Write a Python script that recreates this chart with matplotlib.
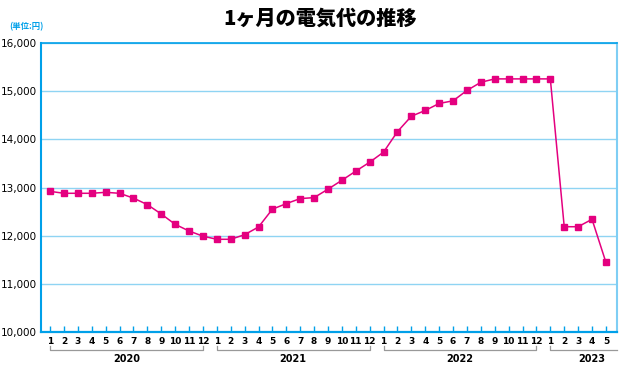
import matplotlib.pyplot as plt
import matplotlib.transforms as mtransforms

# monthly electricity bill (yen), Jan 2020 - May 2023
years = ['2020', '2021', '2022', '2023']
months_per_year = [12, 12, 12, 5]
bill = [
    12920, 12880, 12880, 12880, 12900, 12880, 12780, 12645, 12450, 12236, 12097, 11990,
    11925, 11925, 12020, 12180, 12550, 12665, 12770, 12790, 12965, 13150, 13340, 13525,
    13735, 14160, 14480, 14600, 14745, 14800, 15015, 15185, 15255, 15255, 15255, 15255,
    15255, 12186, 12186, 12340, 11447,
]
yticks = [10000, 11000, 12000, 13000, 14000, 15000, 16000]

CYAN = '#00a0e9'
LIGHT = '#8fd4f3'
PINK = '#e4007f'
NARROW = ['Liberation Sans Narrow', 'DejaVu Sans']

plt.rcParams['font.family'] = ['Noto Sans CJK JP', 'DejaVu Sans']

fig = plt.figure(figsize=(6.35, 3.78), dpi=100)
ax = fig.add_axes([0.0646, 0.1217, 0.9071, 0.7645])

month_labels = []
for n in months_per_year:
    month_labels += [str(m) for m in range(1, n + 1)]
x = list(range(len(bill)))

ax.plot(x, bill, color=PINK, lw=1.1, marker='s', markersize=4.8,
        markerfacecolor=PINK, markeredgecolor=PINK, zorder=3)

ax.set_xlim(-0.65, 40.8)
ax.set_ylim(10000, 16000)
ax.set_yticks(yticks)
ax.set_yticklabels([f'{v:,}' for v in yticks], fontsize=7.5, family=NARROW)
ax.grid(axis='y', color=LIGHT, lw=1.0)
ax.set_axisbelow(True)

ax.set_xticks(x)
ax.set_xticklabels(month_labels, fontsize=6.5, fontweight='bold', family=NARROW)
ax.tick_params(axis='x', direction='in', length=4.5, width=1.0, color=CYAN, pad=3.5)
ax.tick_params(axis='y', length=0, pad=3)

ax.spines['left'].set_color(CYAN)
ax.spines['left'].set_linewidth(1.5)
ax.spines['bottom'].set_color(CYAN)
ax.spines['bottom'].set_linewidth(1.6)
ax.spines['top'].set_color(CYAN)
ax.spines['top'].set_linewidth(1.2)
ax.spines['right'].set_color('#7fcef4')
ax.spines['right'].set_linewidth(1.5)

# year brackets under the month labels
trans = mtransforms.blended_transform_factory(ax.transData, ax.transAxes)
start = 0
for yr, n in zip(years, months_per_year):
    x0 = start
    if n == 12:
        x1 = start + 11
        ax.plot([x0, x0, x1, x1], [-0.048, -0.062, -0.062, -0.048],
                transform=trans, color='#999999', lw=0.9, clip_on=False)
        cx = (x0 + x1) / 2
    else:
        x1 = 40.8
        ax.plot([x0, x0, x1], [-0.048, -0.062, -0.062],
                transform=trans, color='#999999', lw=0.9, clip_on=False)
        cx = start + 3
    ax.text(cx, -0.076, yr, transform=trans, ha='center', va='top', fontsize=7,
            fontweight='bold', family=NARROW)
    start += n

fig.text(0.504, 0.950, '1ヶ月の電気代の推移', ha='center', va='center',
         fontsize=14.5, fontweight='heavy')
fig.text(0.014, 0.928, '(単位:円)', ha='left', va='center', fontsize=6,
         color=CYAN, fontweight='bold')

fig.savefig('out.png', dpi=100)
